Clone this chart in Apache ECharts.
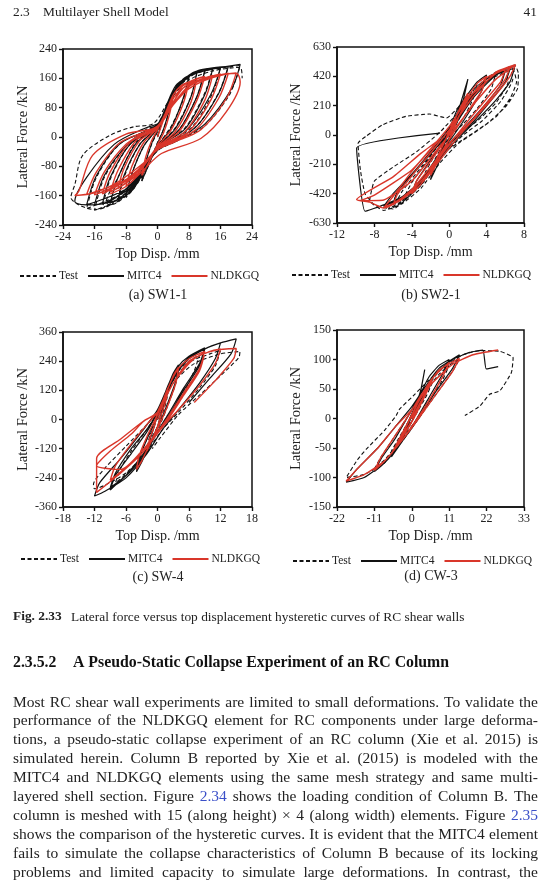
<!DOCTYPE html>
<html><head><meta charset="utf-8">
<script src="https://cdn.jsdelivr.net/npm/echarts@6/dist/echarts.min.js"></script>
<style>html,body{margin:0;padding:0;background:#fff}#c{width:554px;height:888px}</style>
</head><body><div id="c"></div>
<script>
// ---------- data ----------
const seriesNames = ['Test', 'MITC4', 'NLDKGQ'];
const panelCaptions = ['(a) SW1-1', '(b) SW2-1', '(c) SW-4', '(d) CW-3'];
const xAxisName = 'Top Disp. /mm';
const yAxisName = 'Lateral Force /kN';

const aXTicks = [-24, -16, -8, 0, 8, 16, 24];
const aYTicks = [-240, -160, -80, 0, 80, 160, 240];
const bXTicks = [-12, -8, -4, 0, 4, 8];
const bYTicks = [-630, -420, -210, 0, 210, 420, 630];
const cXTicks = [-18, -12, -6, 0, 6, 12, 18];
const cYTicks = [-360, -240, -120, 0, 120, 240, 360];
const dXTicks = [-22, -11, 0, 11, 22, 33];
const dYTicks = [-150, -100, -50, 0, 50, 100, 150];

// (a) SW1-1
const aTest = [[0,0],[2,70],[4,120],[3,70],[1.5,20],[0,-15],[-2,-70],[-4,-120],[-3,-70],[-1.5,-20],[0,15],[2,75],
[5,135],[8,160],[6.5,100],[3.5,30],[0,-25],[-3,-85],[-6,-140],[-8,-165],[-6.5,-100],[-3.5,-25],[0,25],[3,100],
[5,140],[10,175],[8.5,110],[4.5,25],[0,-28],[-5,-125],[-10,-178],[-8.5,-110],[-4.5,-20],[0,28],[4,115],
[6,150],[9,170],[12,180],[10,110],[5.5,20],[0,-30],[-4,-100],[-8,-160],[-12,-185],[-13,-178],[-10,-110],[-5.5,-15],[0,30],[4,115],
[7,160],[14,186],[12,120],[7,25],[0,-32],[-6,-135],[-14,-195],[-12,-115],[-7,-20],[0,32],[4,118],
[9,172],[16,190],[14,120],[9,30],[3,-15],[0,-35],[-5,-115],[-10,-175],[-14,-192],[-16,-200],[-13.5,-110],[-8,-25],[-3,20],[0,35],[4,120],
[9,172],[18,192],[15.5,120],[9.5,25],[0,-36],[-7,-140],[-18,-195],[-15.5,-110],[-9.5,-18],[0,35],[4,120],
[10,178],[16,188],[21,195],[20,160],[18,110],[12,30],[5,-10],[0,-38],[-6,-120],[-12,-185],[-16,-198],[-20,-185],[-22,-165],[-21,-130],[-19,-50],[-12,5],[-6,28],[-1,37],[3,100],[8,155],[14,180],[21,190],[21.5,160]];
const aMitc4 = [[0,0],[2,70],[4,125],[3,75],[1.5,20],[0,-18],[-2,-70],[-4,-120],[-3,-70],[-1.5,-18],[0,18],[2,70],
[5,140],[8,165],[6.5,105],[3.5,25],[0,-25],[-3,-85],[-6,-140],[-8,-160],[-6.5,-100],[-3.5,-25],[0,25],[3,105],
[5,145],[10,176],[8.5,110],[4.5,22],[0,-28],[-5,-120],[-10,-172],[-8.5,-105],[-4.5,-20],[0,28],[4,112],
[6,150],[9,172],[12,180],[10,110],[5.5,20],[0,-30],[-4,-105],[-8,-160],[-12,-180],[-10,-110],[-5.5,-18],[0,30],[4,115],
[7,162],[14,185],[12,115],[7,22],[0,-31],[-6,-130],[-14,-183],[-12,-110],[-7,-20],[0,31],[4,116],
[9,175],[16,188],[13.5,115],[8,25],[3,-15],[0,-33],[-5,-115],[-10,-170],[-16,-185],[-13.5,-105],[-8,-25],[-3,15],[0,33],[4,118],
[9,176],[18,193],[15.5,118],[9.5,25],[0,-35],[-7,-135],[-18,-185],[-15.5,-105],[-9.5,-18],[0,34],[4,118],
[10,180],[16,190],[21,198],[19,135],[12,35],[5,-10],[0,-36],[-6,-120],[-12,-175],[-17,-185],[-21,-175],[-18,-110],[-11,-20],[-4,20],[0,35]];
const aNldkgq = [[0,0],[2,60],[4,110],[3,60],[1.5,10],[0,-20],[-2,-65],[-4,-105],[-3,-55],[-1.5,-10],[0,20],[2,65],
[4,115],[6,140],[8,150],[6.5,90],[3.5,20],[0,-25],[-3,-70],[-6,-115],[-8,-135],[-6.5,-80],[-3.5,-15],[0,25],[3,85],
[5,120],[10,160],[8.5,95],[4.5,15],[0,-28],[-5,-100],[-10,-140],[-8.5,-85],[-4.5,-10],[0,26],[4,92],
[6,135],[9,155],[12,165],[10,100],[5.5,15],[0,-30],[-4,-80],[-8,-125],[-12,-150],[-10,-90],[-5.5,-10],[0,28],[4,95],
[7,138],[14,168],[12,100],[7,15],[0,-31],[-6,-105],[-14,-155],[-12,-95],[-7,-15],[0,29],[4,90],
[8,140],[12,160],[16,172],[13.5,100],[8,15],[3,-15],[0,-32],[-5,-90],[-10,-130],[-16,-158],[-13.5,-95],[-8,-20],[-3,15],[0,30],[4,90],
[9,145],[18,174],[15.5,105],[9.5,18],[0,-33],[-7,-110],[-18,-157],[-15.5,-95],[-9.5,-15],[0,30],[4,90],
[8,138],[14,165],[20,175],[17.5,105],[11,20],[4,-15],[0,-35],[-4,-75],[-10,-122],[-16,-152],[-21,-160],[-20,-148],[-16.5,-50],[-8,8],[0,28],[4,88],[8,132],[14,162],[20,174],[21,150],[17.5,69],[11,-4],[1,-45],[-4,-95],[-8,-135],[-12,-155]];

// (b) SW2-1
const bTest = [[0,0],[1,150],[2,280],[1.5,180],[0.5,40],[0,-30],[-1,-150],[-2,-270],[-1.5,-170],[-0.5,-50],[0,30],[1,160],
[3,360],[2.5,250],[1.5,120],[0,-10],[-1.5,-200],[-3,-360],[-2.5,-260],[-1.5,-140],[0,20],[1.5,200],
[3.5,380],[5,450],[4.5,330],[3,190],[1.5,80],[0,-20],[-2,-240],[-4,-420],[-5,-470],[-4,-340],[-2.5,-200],[0,40],[2,250],
[4,400],[6,470],[6.3,380],[5,230],[3,100],[1,0],[-1,-150],[-3,-340],[-5,-470],[-6.5,-530],[-5.5,-420],[-3.5,-250],[-1,-50],[1,150],[3,330],
[5,430],[6.5,480],[6.8,400],[5.5,240],[3.5,100],[1.5,0],[-1,-170],[-3,-360],[-5,-480],[-6,-520],[-5,-400],[-3,-230],[-0.5,-20],[1.5,180],[3.5,360],
[5,420],[6.8,470],[7.2,380],[6.5,260],[5,130],[3,30],[1,-60],[-1,-200],[-3,-380],[-5,-490],[-7,-540],[-8.5,-470],[-8,-330],[-6,-230],[-3.5,-120],[-1,20],[1.5,200],[3.5,350],
[5,440],[7,500],[7.4,440],[7.3,330],[6,200],[4,80],[2,-10],[0,-100],[-2,-260],[-4,-420],[-6,-530],[-8,-500],[-9,-420],[-9.5,-250],[-9.75,-60],[-8.9,-9],[-7.1,74],[-4.6,134],[-2.1,150],[-0.3,122],[1,200],[3,350],[5,450],[7,490]];
const bMitc4 = [[0,0],[1,180],[2,400],[1.5,250],[0.5,60],[0,-40],[-1,-180],[-2,-320],[-1.5,-200],[-0.5,-60],[0,40],[1,200],
[3,380],[4,430],[3.5,320],[2,150],[0.5,0],[-1,-130],[-3,-330],[-4,-420],[-3.5,-330],[-2,-180],[0,20],[2,230],
[4,400],[6,460],[5.5,360],[4,230],[2,80],[0,-60],[-2,-250],[-4,-400],[-6,-480],[-7,-510],[-6,-420],[-4,-280],[-2,-120],[0,50],[2,250],
[5,440],[6.5,470],[6,380],[4.5,250],[2.5,90],[0,-70],[-2,-240],[-4,-390],[-6,-490],[-5.5,-400],[-3.5,-250],[-1.5,-100],[0.5,60],[2.5,260],
[5,430],[7,480],[6.5,380],[5,250],[3,110],[1,-20],[-1,-160],[-3,-330],[-5,-440],[-7,-500],[-9,-546],[-9.9,-93],[-1,14]];
const bNldkgq = [[0,0],[1,170],[2,300],[1.5,200],[0.5,50],[0,-30],[-1,-160],[-2,-290],[-1.5,-190],[-0.5,-50],[0,30],[1,170],
[3,370],[4,420],[3.5,320],[2,170],[0.5,20],[-1,-140],[-3,-350],[-4,-420],[-3.5,-330],[-2,-190],[0,10],[2,250],
[4,410],[6,470],[5.5,380],[4,260],[2,100],[0,-70],[-2,-250],[-4,-400],[-6,-490],[-7,-520],[-6,-440],[-4,-260],[-2,-100],[0,60],[2,260],
[5,440],[6.5,485],[6,400],[4.5,270],[2.5,110],[0,-60],[-2,-230],[-4,-390],[-6,-500],[-5.5,-420],[-3.5,-250],[-1.5,-90],[0.5,80],[2.5,270],
[5,450],[7.1,503],[6.5,420],[5,290],[3,140],[1,-10],[-1,-180],[-3,-350],[-5,-460],[-7,-523],[-8.5,-480],[-9.9,-463],[-6,-300],[-3,-130],[-1,-30],
[-4,-250],[-8,-430],[-9.5,-470],[-7,-465],[-4,-330],[-1,-80],[1,80],[3,250],[5,400],[7,500]];

// (c) SW-4
const cTest = [[0,0],[1,50],[2,110],[1.5,60],[0.5,0],[0,-30],[-1,-70],[-2,-120],[-1.5,-70],[-0.5,-20],[0,20],[1.5,90],
[3,170],[4,210],[3.5,150],[2,60],[0.5,-20],[-1,-80],[-3,-160],[-4,-200],[-3.5,-150],[-2,-80],[0,10],[2,120],
[4,200],[6,240],[8,265],[7,200],[5,110],[2,10],[0,-50],[-2,-120],[-4,-180],[-6,-225],[-8,-260],[-7,-200],[-5,-130],[-2,-40],[0,30],[3,160],
[6,235],[10,270],[12,285],[11,220],[8,130],[4,30],[1,-40],[-2,-130],[-6,-220],[-10,-270],[-12,-285],[-12.2,-268],[-10,-200],[-6,-110],[-2,-20],[0,30],[3,150],[7,230],[12,270],[15.7,280],[15.5,255],[12,180],[8,100],[4,20],[0.5,-76],[-1,-120]];
const cMitc4 = [[0,0],[1,70],[2,130],[1.5,80],[0.5,10],[0,-30],[-1,-80],[-2,-140],[-1.5,-90],[-0.5,-20],[0,30],[1.5,110],
[3,190],[4,225],[3.5,160],[2,70],[0.5,-10],[-1,-80],[-3,-175],[-4,-215],[-3.5,-160],[-2,-80],[0,20],[2,140],
[4,220],[6,260],[9,295],[8,230],[5,130],[2,20],[0,-50],[-2,-130],[-5,-210],[-8,-270],[-9,-290],[-8,-230],[-5,-140],[-2,-50],[0,30],[3,170],
[6,250],[9,290],[8,220],[5,120],[2,10],[0,-55],[-3,-150],[-6,-230],[-9,-280],[-8,-220],[-5,-120],[-2,-40],[0,30],[3,165],
[6,255],[10,300],[12,315],[11,250],[8,150],[4,40],[1,-40],[-2,-140],[-6,-240],[-10,-295],[-12,-315],[-11,-260],[-7,-160],[-3,-50],[0,40],[3,180],[7,270],[12,315],[15,332],[14,270],[10,170],[6,70]];
const cNldkgq = [[0,0],[1,60],[2,120],[1.5,70],[0.5,5],[0,-30],[-1,-80],[-2,-130],[-1.5,-80],[-0.5,-20],[0,30],[1.5,100],
[3,180],[4,215],[3.5,150],[2,60],[0.5,-15],[-1,-80],[-3,-170],[-4,-205],[-3.5,-150],[-2,-70],[0,20],[2,130],
[4,210],[6,250],[9,280],[8,210],[5,110],[2,10],[0,-50],[-3,-130],[-7,-205],[-11.6,-190],[-9,-130],[-5,-60],[-2.7,-8],[0,30],[3,150],
[6,235],[9,275],[8,200],[5,100],[2,0],[0,-55],[-3,-140],[-7,-215],[-9,-250],[-8,-190],[-5,-100],[-2,-20],[0,30],[3,150],
[6,240],[10,280],[12,290],[11,230],[8,140],[4,40],[1,-30],[-3,-140],[-7,-220],[-11.6,-300],[-11.6,-160],[-7,-80],[-2.7,-7],[0,28],[3,150],[7,250],[11,285],[15,292],[14.5,250],[11,160],[7,70]];

// (d) CW-3
const dTest = [[0,0],[2,20],[4,40],[2,20],[0,-5],[-2,-20],[-4,-40],[-2,-20],[0,5],[3,35],
[6,60],[4,35],[1,5],[-2,-25],[-6,-55],[-4,-35],[-1,-5],[2,30],
[8,75],[11,90],[9,65],[5,30],[1,-5],[-3,-35],[-8,-70],[-11,-85],[-9,-65],[-5,-30],[-1,5],[3,40],
[8,80],[14,100],[12,80],[7,40],[2,0],[-3,-40],[-8,-75],[-14,-95],[-19.3,-100],[-16,-70],[-13.4,-52],[-8,-20],[-4.6,5],[-3.6,16],[0.35,38],[5,65],[10,90],[15,108],[20,115],[25.8,114],[29.8,103],[29.3,78],[25.9,47],[22.9,41],[20,21],[15.6,5]];
const dMitc4 = [[0,0],[2,25],[4,45],[2,20],[0,-5],[-2,-25],[-4,-45],[-2,-20],[0,5],[2,30],[3.8,83],[2.5,45],[0,5],[-3,-40],[-6,-65],[-4,-40],[-1,-5],[2,35],[5,70],[8,90],
[11,100],[9,75],[5,35],[1,-5],[-3,-40],[-8,-75],[-11,-90],[-9,-68],[-5,-35],[-1,5],[3,45],[8,85],[14,108],[12,85],[7,45],[2,0],[-3,-40],[-8,-75],[-14,-100],[-19.3,-108],[-16,-85],[-10,-50],[-5,-15],[0,20],[6,70],[12,100],[17,112],[20.9,116],[21.9,84],[25.4,88]];
const dNldkgq = [[0,0],[2,22],[4,42],[2,18],[0,-5],[-2,-22],[-4,-42],[-2,-18],[0,5],[3,40],[6,65],[4,40],[1,5],[-2,-25],[-6,-60],[-4,-38],[-1,-5],[2,30],[5,60],[8,80],
[11,95],[9,70],[5,30],[1,-5],[-3,-38],[-8,-72],[-11,-88],[-9,-65],[-5,-30],[-1,5],[3,42],[8,82],[14,102],[12,80],[7,40],[2,0],[-3,-38],[-8,-72],[-14,-95],[-19.3,-106],[-16,-85],[-10,-50],[-5,-15],[0,15],[6,60],[12,92],[18,108],[25.4,116]];

// page text
const headerSection = '2.3';
const headerTitle = 'Multilayer Shell Model';
const pageNumber = '41';
const figLabel = 'Fig. 2.33';
const figCaption = 'Lateral force versus top displacement hysteretic curves of RC shear walls';
const headingNum = '2.3.5.2';
const headingText = 'A Pseudo-Static Collapse Experiment of an RC Column';
const bodyLines = [
 'Most RC shear wall experiments are limited to small deformations. To validate the',
 'performance of the NLDKGQ element for RC components under large deforma-',
 'tions, a pseudo-static collapse experiment of an RC column (Xie et al. 2015) is',
 'simulated herein. Column B reported by Xie et al. (2015) is modeled with the',
 'MITC4 and NLDKGQ elements using the same mesh strategy and same multi-',
 'layered shell section. Figure 2.34 shows the loading condition of Column B. The',
 'column is meshed with 15 (along height) \u00d7 4 (along width) elements. Figure 2.35',
 'shows the comparison of the hysteretic curves. It is evident that the MITC4 element',
 'fails to simulate the collapse characteristics of Column B because of its locking',
 'problems and limited capacity to simulate large deformations. In contrast, the'
];
const linkWords = ['2.34', '2.35'];

// ---------- layout ----------
const SERIF = '"Liberation Serif", "Times New Roman", serif';
const panels = [
 {xt: aXTicks, yt: aYTicks, data: [aTest, aMitc4, aNldkgq], smooth: 0.3, grid: {left: 63, top: 49, width: 189, height: 176}, yGap: 30, legend: {left: 19, top: 270}, cap: [158, 295]},
 {xt: bXTicks, yt: bYTicks, data: [bTest, bMitc4, bNldkgq], smooth: 0.15, grid: {left: 337, top: 47, width: 187, height: 176}, yGap: 33, legend: {left: 291, top: 269}, cap: [431, 295]},
 {xt: cXTicks, yt: cYTicks, data: [cTest, cMitc4, cNldkgq], smooth: 0.25, grid: {left: 63, top: 332, width: 189, height: 175}, yGap: 30, legend: {left: 20, top: 553}, cap: [158, 577]},
 {xt: dXTicks, yt: dYTicks, data: [dTest, dMitc4, dNldkgq], smooth: 0.15, grid: {left: 337, top: 330, width: 187, height: 177}, yGap: 33, legend: {left: 292, top: 555}, cap: [431, 576]}
];
const styles = [
 {color: '#111', lineStyle: {color: '#111', width: 1.1, type: [4, 2.5]}},
 {color: '#111', lineStyle: {color: '#111', width: 1.2, type: 'solid'}},
 {color: '#d9362a', lineStyle: {color: '#d9362a', width: 1.4, type: 'solid'}}
];

const axisCommon = {
 axisLine: {show: true, onZero: false, lineStyle: {color: '#111', width: 1.6}},
 axisTick: {show: true, inside: false, length: 4, lineStyle: {color: '#111', width: 1.4}},
 splitLine: {show: false},
 axisLabel: {color: '#222', fontSize: 12, fontFamily: SERIF, margin: 6},
 nameTextStyle: {color: '#222', fontSize: 14, fontFamily: SERIF}
};

const grid = [], xAxis = [], yAxis = [], series = [], legend = [], graphic = [];
panels.forEach((p, i) => {
 grid.push(Object.assign({show: true, borderColor: '#111', borderWidth: 1.5, backgroundColor: 'transparent'}, p.grid));
 xAxis.push(Object.assign({}, axisCommon, {
  type: 'value', gridIndex: i, min: p.xt[0], max: p.xt[p.xt.length - 1], interval: p.xt[1] - p.xt[0],
  name: xAxisName, nameLocation: 'middle', nameGap: 22
 }));
 yAxis.push(Object.assign({}, axisCommon, {
  type: 'value', gridIndex: i, min: p.yt[0], max: p.yt[p.yt.length - 1], interval: p.yt[1] - p.yt[0],
  name: yAxisName, nameLocation: 'middle', nameGap: p.yGap,
  nameTextStyle: {color: '#222', fontSize: 14.5, fontFamily: SERIF}
 }));
 seriesNames.forEach((nm, k) => {
  series.push({
   type: 'line', name: nm, xAxisIndex: i, yAxisIndex: i, data: p.data[k],
   showSymbol: false, symbol: 'none', smooth: p.smooth, animation: false,
   color: styles[k].color, lineStyle: styles[k].lineStyle, z: 2 + k
  });
 });
 legend.push({
  data: seriesNames, left: p.legend.left, top: p.legend.top, padding: 0,
  itemWidth: 36, itemHeight: 8, itemGap: 9,
  itemStyle: {color: 'rgba(0,0,0,0)', borderColor: 'rgba(0,0,0,0)', borderWidth: 0, opacity: 0},
  textStyle: {color: '#222', fontSize: 11.5, fontFamily: SERIF, padding: [0, 0, 0, -2]}
 });
 graphic.push({type: 'text', x: p.cap[0], y: p.cap[1], style: {text: panelCaptions[i], font: '14px ' + SERIF, fill: '#222', align: 'center', verticalAlign: 'middle'}});
});

// header
graphic.push({type: 'text', x: 13, y: 12, style: {text: headerSection, font: '13.4px ' + SERIF, fill: '#222', verticalAlign: 'middle'}});
graphic.push({type: 'text', x: 43, y: 12, style: {text: headerTitle, font: '13.4px ' + SERIF, fill: '#222', verticalAlign: 'middle'}});
graphic.push({type: 'text', x: 537, y: 12, style: {text: pageNumber, font: '13.4px ' + SERIF, fill: '#222', align: 'right', verticalAlign: 'middle'}});

// figure caption
graphic.push({type: 'text', x: 13, y: 617, style: {text: figLabel, font: 'bold 13.4px ' + SERIF, fill: '#222', verticalAlign: 'middle'}});
graphic.push({type: 'text', x: 71, y: 617, style: {text: figCaption, font: '13.4px ' + SERIF, fill: '#222', verticalAlign: 'middle'}});

// heading
graphic.push({type: 'text', x: 13, y: 663, style: {text: headingNum, font: 'bold 15.8px ' + SERIF, fill: '#111', verticalAlign: 'middle'}});
graphic.push({type: 'text', x: 73, y: 663, style: {text: headingText, font: 'bold 15.8px ' + SERIF, fill: '#111', verticalAlign: 'middle'}});

// justified body text
const bodyFont = '15.5px ' + SERIF;
const mctx = document.createElement('canvas').getContext('2d');
mctx.font = bodyFont;
const X0 = 13, X1 = 538, Y0 = 702.5, LH = 18.9;
bodyLines.forEach((line, li) => {
 const words = line.split(' ');
 const widths = words.map(w => mctx.measureText(w).width);
 const total = widths.reduce((s, v) => s + v, 0);
 const gap = (X1 - X0 - total) / (words.length - 1);
 let x = X0;
 words.forEach((w, wi) => {
  const isLink = linkWords.indexOf(w.replace(/[.,]$/, '')) >= 0;
  graphic.push({type: 'text', x: x, y: Y0 + li * LH, style: {text: w, font: bodyFont, fill: isLink ? '#3a4fc8' : '#222', verticalAlign: 'middle'}});
  x += widths[wi] + gap;
 });
});

const chart = echarts.init(document.getElementById('c'), null, {renderer: 'canvas'});
chart.setOption({
 backgroundColor: '#fff', animation: false,
 grid, xAxis, yAxis, series, legend, graphic
});
</script></body></html>
